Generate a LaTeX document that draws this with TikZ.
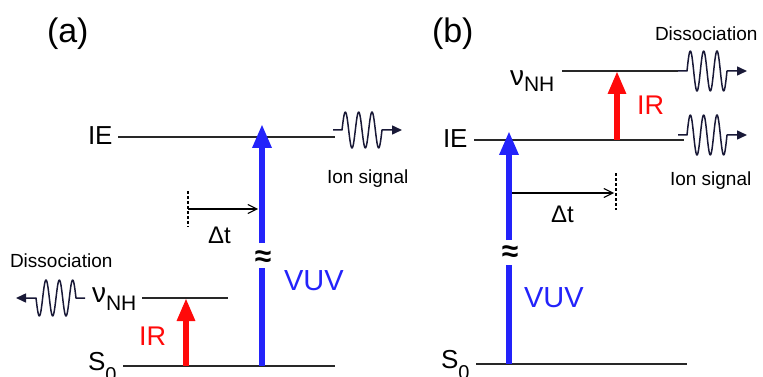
\documentclass[tikz,border=0pt]{standalone}
\usepackage{fontspec}
\setmainfont{Liberation Sans}
\usetikzlibrary{arrows.meta}
\definecolor{vuvblue}{RGB}{35,35,250}
\definecolor{irred}{RGB}{255,10,10}
\definecolor{levelc}{RGB}{40,40,40}
\definecolor{wavec}{RGB}{25,25,55}
\newcommand{\fsz}[1]{\fontsize{#1}{#1}\selectfont}
\newcommand{\wavepath}[3]{%
  \begin{scope}[shift={(#1)}, xscale=#2]
    \draw[wave] (0,0) -- (9,0) -- plot[domain=0:40, samples=81, smooth] ({9+\x},{-#3*sin(27*\x)}) -- (58,0) -- (69,0);
  \end{scope}}
\begin{document}
\begin{tikzpicture}[x=1pt,y=-1pt,
  level/.style={draw=levelc, line width=1.4pt},
  vuvarrow/.style={draw=vuvblue, line width=6pt, -{Triangle[width=18pt,length=24pt]}},
  vuvline/.style={draw=vuvblue, line width=6pt},
  irarrow/.style={draw=irred, line width=6pt, -{Triangle[width=17pt,length=23pt]}},
  lbl/.style={anchor=base west, inner sep=0pt, outer sep=0pt},
  dtarrow/.style={draw=black, line width=1.1pt, -{Straight Barb[length=9pt,width=9pt]}},
  dtdash/.style={draw=black, line width=1.1pt, dash pattern=on 3pt off 2pt},
  wave/.style={draw=wavec, line width=1.5pt, line join=round, -{Triangle[length=10pt,width=9pt]}},
  approx/.style={font=\bfseries\fsz{30}, inner sep=0pt}
]
\useasboundingbox (0,0) rectangle (763,377);

% ---------- panel (a) ----------
\node[lbl, font=\fsz{34}] (labA) at (47,43) {(a)};
\node[lbl, font=\fsz{26}] (ieA) at (88,145) {IE};
\node[lbl, font=\fsz{28}] (nuA) at (92,302) {ν\raisebox{-8pt}{\fsz{21}NH}};
\node[lbl, font=\fsz{26}] (s0A) at (88,370) {S\raisebox{-11pt}{\fsz{20}0}};
\node[lbl, font=\fsz{27}, text=irred] (irA) at (139,345) {IR};
\node[lbl, font=\fsz{19}] (dissA) at (10,267) {Dissociation};
\node[lbl, font=\fsz{19}] (ionA) at (327,183) {Ion signal};
\node[lbl, font=\fsz{24}] (dtA) at (208,243) {Δt};
\node[lbl, font=\fsz{29}, text=vuvblue] (vuvA) at (284,290) {VUV};
\node[approx] (apxA) at (263,259) {≈};

\coordinate (ieA1) at (118,137); \coordinate (ieA2) at (335,137);
\coordinate (s0A1) at (123,366); \coordinate (s0A2) at (335,366);
\coordinate (nuA1) at (142,298); \coordinate (nuA2) at (228,298);
\draw[level] (ieA1) -- (ieA2);
\draw[level] (s0A1) -- (s0A2);
\draw[level] (nuA1) -- (nuA2);

\coordinate (irAb) at (186,366); \coordinate (irAt) at (186,298);
\draw[irarrow] (irAb) -- (irAt);

\coordinate (vuvAb) at (262,366); \coordinate (vuvAg1) at (262,268);
\coordinate (vuvAg2) at (262,243); \coordinate (vuvAt) at (262,124);
\draw[vuvline] (vuvAb) -- (vuvAg1);
\draw[vuvarrow] (vuvAg2) -- (vuvAt);

\coordinate (dtA0) at (188,209); \coordinate (dtA1) at (258,209);
\coordinate (dtAd1) at (188,191); \coordinate (dtAd2) at (188,227);
\draw[dtdash] (dtAd1) -- (dtAd2);
\draw[dtarrow] (dtA0) -- (dtA1);

\coordinate (wvA1) at (333,130);
\coordinate (wvA2) at (85,298);
\wavepath{wvA1}{1}{18}
\wavepath{wvA2}{-1}{18}

% ---------- panel (b) ----------
\node[lbl, font=\fsz{34}] (labB) at (432,43) {(b)};
\node[lbl, font=\fsz{26}] (ieB) at (443,148) {IE};
\node[lbl, font=\fsz{28}] (nuB) at (510,86) {ν\raisebox{-6pt}{\fsz{21}NH}};
\node[lbl, font=\fsz{26}] (s0B) at (441,368) {S\raisebox{-11pt}{\fsz{20}0}};
\node[lbl, font=\fsz{27}, text=irred] (irB) at (637,115) {IR};
\node[lbl, font=\fsz{19}] (dissB) at (655,41) {Dissociation};
\node[lbl, font=\fsz{19}] (ionB) at (670,185) {Ion signal};
\node[lbl, font=\fsz{24}] (dtB) at (551,222) {Δt};
\node[lbl, font=\fsz{29}, text=vuvblue] (vuvB) at (524,307) {VUV};
\node[approx] (apxB) at (510,254) {≈};

\coordinate (nuB1) at (562,71); \coordinate (nuB2) at (678,71);
\coordinate (ieB1) at (474,140); \coordinate (ieB2) at (684,140);
\coordinate (s0B1) at (476,364); \coordinate (s0B2) at (687,364);
\draw[level] (nuB1) -- (nuB2);
\draw[level] (ieB1) -- (ieB2);
\draw[level] (s0B1) -- (s0B2);

\coordinate (irBb) at (617,140); \coordinate (irBt) at (617,71);
\draw[irarrow] (irBb) -- (irBt);

\coordinate (vuvBb) at (509,364); \coordinate (vuvBg1) at (509,265);
\coordinate (vuvBg2) at (509,240); \coordinate (vuvBt) at (509,131);
\draw[vuvline] (vuvBb) -- (vuvBg1);
\draw[vuvarrow] (vuvBg2) -- (vuvBt);

\coordinate (dtB0) at (512,193); \coordinate (dtB1) at (614,193);
\coordinate (dtBd1) at (616,173); \coordinate (dtBd2) at (616,210);
\draw[dtarrow] (dtB0) -- (dtB1);
\draw[dtdash] (dtBd1) -- (dtBd2);

\coordinate (wvB1) at (678,71);
\coordinate (wvB2) at (678,135);
\wavepath{wvB1}{1}{20}
\wavepath{wvB2}{1}{20}
\end{tikzpicture}
\end{document}
